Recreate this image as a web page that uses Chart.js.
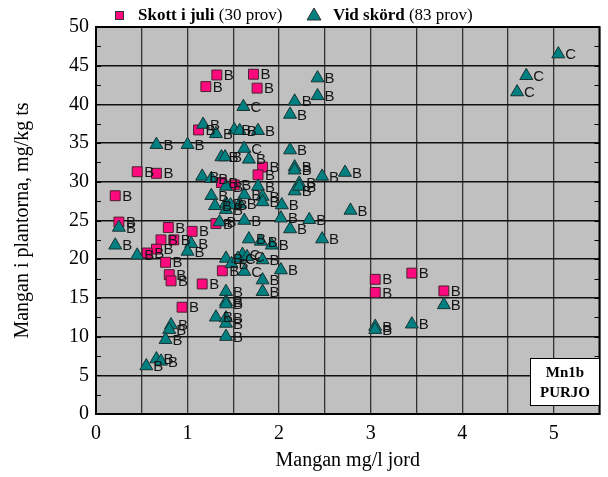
<!DOCTYPE html>
<html>
<head>
<meta charset="utf-8">
<script src="https://cdn.jsdelivr.net/npm/chart.js@4.4.0/dist/chart.umd.min.js"></script>
<style>
body { margin: 0; background: #fff; }
#wrap { width: 608px; height: 477px; }
</style>
</head>
<body>
<div id="wrap"><canvas id="chart" width="608" height="477"></canvas></div>
<script>
// Skott i juli (30 prov)
const skottX = [1.32, 1.72, 1.20, 1.76, 1.12, 0.45, 0.66, 1.82, 1.77, 1.37,
                1.51, 0.21, 0.25, 0.79, 1.05, 1.31, 0.71, 0.85, 0.66, 0.56,
                0.76, 0.80, 0.82, 1.16, 1.38, 0.94, 3.05, 3.05, 3.45, 3.80];
const skottY = [43.8, 43.9, 42.3, 42.1, 36.7, 31.3, 31.1, 31.9, 30.9, 29.9,
                29.6, 28.2, 24.8, 24.1, 23.6, 24.6, 22.5, 22.5, 21.3, 20.8,
                19.6, 18.0, 17.2, 16.8, 18.5, 13.8, 17.4, 15.7, 18.2, 15.9];
const skottTag = Array(30).fill('B');

// Vid skörd (83 prov)
const skordX = [5.05, 4.70, 4.60, 2.42, 2.42, 2.17, 2.12, 1.61, 1.17, 1.31,
                1.51, 1.57, 1.77, 0.66, 1.00, 1.62, 2.12, 1.37, 1.41, 1.67,
                2.17, 2.17, 2.47, 2.72, 1.16, 1.26, 1.42, 1.77, 2.22, 2.17,
                1.26, 1.62, 1.82, 1.82, 2.03, 1.30, 1.42, 1.42, 1.57, 2.78,
                1.35, 1.62, 2.02, 2.33, 2.12, 2.47, 1.67, 1.80, 1.92, 0.25,
                0.21, 0.45, 1.04, 1.00, 1.42, 1.48, 1.60, 1.55, 1.82, 2.02,
                1.62, 1.82, 1.82, 1.42, 1.42, 1.42, 1.31, 1.42, 1.42, 1.42,
                0.82, 0.80, 0.76, 0.66, 0.71, 0.55, 3.80, 3.45, 3.05, 3.05,
                1.65, 1.47, 2.22];
const skordY = [46.5, 43.7, 41.6, 43.4, 41.1, 40.4, 38.7, 39.7, 37.4, 36.2,
                36.7, 36.6, 36.6, 34.8, 34.8, 34.3, 34.1, 33.2, 33.2, 32.9,
                31.9, 31.5, 30.7, 31.2, 30.7, 30.4, 29.4, 29.4, 29.8, 28.8,
                28.2, 28.3, 28.1, 27.4, 27.0, 26.9, 27.2, 26.4, 27.1, 26.3,
                24.8, 25.0, 25.3, 25.1, 23.9, 22.6, 22.6, 22.3, 21.8, 24.1,
                21.8, 20.5, 22.0, 21.0, 20.1, 19.4, 20.6, 20.1, 19.9, 18.6,
                18.4, 17.3, 15.8, 15.8, 14.5, 14.2, 12.5, 12.4, 11.7, 10.0,
                11.5, 10.9, 9.6, 7.1, 6.8, 6.2, 14.1, 11.6, 11.3, 10.9,
                20.3, 27.0, 29.4];
const skordTag = ['C', 'C', 'C', 'B', 'B', 'B', 'B', 'C', 'B', 'B',
                  'B', 'B', 'B', 'B', 'B', 'C', 'B', 'B', 'B', 'B',
                  'B', 'B', 'B', 'B', 'B', 'B', 'B', 'B', 'B', 'B',
                  'B', 'B', 'B', 'B', 'B', 'B', 'B', 'B', 'B', 'B',
                  'B', 'B', 'B', 'B', 'B', 'B', 'B', 'B', 'B', 'B',
                  'B', 'B', 'B', 'B', 'B', 'B', 'C', 'C', 'B', 'B',
                  'C', 'B', 'B', 'B', 'B', 'B', 'B', 'B', 'B', 'B',
                  'B', 'B', 'B', 'B', 'B', 'B', 'B', 'B', 'B', 'B',
                  'C', 'B', 'B'];

const xTicks = [0, 1, 2, 3, 4, 5];
const yTicks = [0, 5, 10, 15, 20, 25, 30, 35, 40, 45, 50];

const PINK = '#ff0a7e';
const TEAL = '#008080';
const SERIF = '"Liberation Serif", "Times New Roman", serif';

function pts(xs, ys) {
    return xs.map((x, i) => ({ x: x, y: ys[i] }));
}

const frame = {
    id: 'frame',
    beforeDraw(chart) {
        const a = chart.chartArea, ctx = chart.ctx;
        ctx.save();
        ctx.fillStyle = '#c0c0c0';
        ctx.fillRect(a.left, a.top, a.right - a.left, a.bottom - a.top);
        ctx.restore();
    },
    afterDatasetsDraw(chart) {
        // B / C tags beside each marker
        const ctx = chart.ctx, sx = chart.scales.x, sy = chart.scales.y;
        ctx.save();
        ctx.font = '15px "Liberation Sans", Arial, sans-serif';
        ctx.fillStyle = '#151515';
        ctx.textBaseline = 'middle';
        [[skottX, skottY, skottTag], [skordX, skordY, skordTag]].forEach(function(s) {
            s[2].forEach(function(t, i) {
                ctx.fillText(t, sx.getPixelForValue(s[0][i]) + 7, sy.getPixelForValue(s[1][i]) + 1);
            });
        });
        ctx.restore();
    },
    afterDraw(chart) {
        const a = chart.chartArea, ctx = chart.ctx, sy = chart.scales.y;
        ctx.save();
        // minor ticks inside, left and right
        ctx.strokeStyle = '#000';
        ctx.lineWidth = 1.2;
        for (let v = 0; v <= 50; v += 2.5) {
            const y = Math.round(sy.getPixelForValue(v)) + 0.5;
            ctx.beginPath();
            ctx.moveTo(a.left, y); ctx.lineTo(a.left + 5, y);
            ctx.moveTo(a.right, y); ctx.lineTo(a.right - 5, y);
            ctx.stroke();
        }
        // frame
        ctx.lineWidth = 2;
        ctx.strokeRect(a.left, a.top, a.right - a.left, a.bottom - a.top);

        // Mn1b PURJO box
        ctx.fillStyle = '#fff';
        ctx.fillRect(530, 358, 70, 48);
        ctx.lineWidth = 1;
        ctx.strokeRect(530.5, 358.5, 69, 47);
        ctx.fillStyle = '#000';
        ctx.font = 'bold 15px ' + SERIF;
        ctx.textAlign = 'center';
        ctx.textBaseline = 'middle';
        ctx.fillText('Mn1b', 565, 373);
        ctx.fillText('PURJO', 565, 393);

        // legend
        ctx.textAlign = 'left';
        ctx.fillStyle = PINK;
        ctx.strokeStyle = '#333';
        ctx.fillRect(115, 11, 9, 9);
        ctx.strokeRect(115.5, 11.5, 8, 8);
        let x = 138;
        ctx.fillStyle = '#000';
        ctx.font = 'bold 17px ' + SERIF;
        ctx.fillText('Skott i juli', x, 16);
        x += ctx.measureText('Skott i juli').width;
        ctx.font = '17px ' + SERIF;
        ctx.fillText(' (30 prov)', x, 16);

        ctx.beginPath();
        ctx.moveTo(314, 8); ctx.lineTo(321, 20); ctx.lineTo(307, 20); ctx.closePath();
        ctx.fillStyle = TEAL;
        ctx.fill();
        ctx.stroke();
        x = 333;
        ctx.fillStyle = '#000';
        ctx.font = 'bold 17px ' + SERIF;
        ctx.fillText('Vid skörd', x, 16);
        x += ctx.measureText('Vid skörd').width;
        ctx.font = '17px ' + SERIF;
        ctx.fillText(' (83 prov)', x, 16);
        ctx.restore();
    }
};

const ctx = document.getElementById('chart').getContext('2d');
const chart = new Chart(ctx, {
    type: 'scatter',
    data: {
        datasets: [{
            label: 'Vid skörd (83 prov)',
            data: pts(skordX, skordY),
            pointStyle: 'triangle',
            radius: 7.5,
            backgroundColor: TEAL,
            borderColor: '#1a3333',
            borderWidth: 1
        }, {
            label: 'Skott i juli (30 prov)',
            data: pts(skottX, skottY),
            pointStyle: 'rect',
            radius: 7,
            backgroundColor: PINK,
            borderColor: '#4a2030',
            borderWidth: 1
        }]
    },
    options: {
        responsive: false,
        animation: false,
        layout: { padding: { left: 0, right: 7, top: 27, bottom: 0 } },
        plugins: {
            legend: { display: false },
            tooltip: { enabled: false }
        },
        scales: {
            x: {
                type: 'linear',
                min: 0,
                max: 5.5,
                afterFit: function(s) { s.height = 63; },
                border: { display: true, color: '#000', width: 2 },
                grid: {
                    color: '#333',
                    lineWidth: 1.3,
                    drawTicks: false
                },
                ticks: {
                    stepSize: 0.5,
                    padding: 8,
                    color: '#000',
                    font: { family: SERIF, size: 20 },
                    maxRotation: 0,
                    autoSkip: false,
                    callback: function(v) { return xTicks.includes(v) ? String(v) : ''; }
                },
                title: {
                    display: true,
                    text: 'Mangan mg/l jord',
                    color: '#000',
                    font: { family: SERIF, size: 20 },
                    padding: { top: 0, bottom: 4 }
                }
            },
            y: {
                min: 0,
                max: 50,
                afterFit: function(s) { s.width = 96; },
                border: { display: true, color: '#000', width: 2 },
                grid: {
                    color: function(c) { return yTicks.includes(c.tick.value) ? '#111' : 'rgba(0,0,0,0)'; },
                    lineWidth: 1.5,
                    drawTicks: false
                },
                ticks: {
                    stepSize: 2.5,
                    padding: 7,
                    color: '#000',
                    font: { family: SERIF, size: 20 },
                    autoSkip: false,
                    callback: function(v) { return yTicks.includes(v) ? String(v) : ''; }
                },
                title: {
                    display: true,
                    text: 'Mangan i plantorna, mg/kg ts',
                    color: '#000',
                    font: { family: SERIF, size: 20 },
                    padding: { top: 11, bottom: 0 }
                }
            }
        }
    },
    plugins: [frame]
});
</script>
</body>
</html>
